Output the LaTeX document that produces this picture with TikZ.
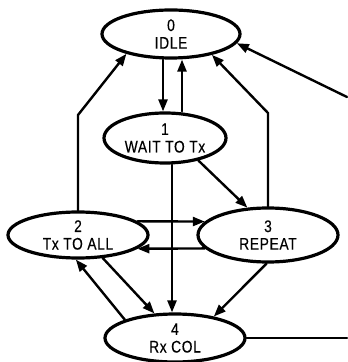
\documentclass[tikz,border=0pt]{standalone}
\usepackage{fontspec}
\setmainfont{Liberation Sans}[FakeStretch=0.82,FakeBold=0.4,LetterSpace=4]
\usetikzlibrary{arrows.meta,shapes.geometric}

\begin{document}
\begin{tikzpicture}[x=0.5pt,y=-0.5pt,>={Triangle[length=6pt,width=4.5pt]},
 line cap=round,line join=round,
 statenode/.style={ellipse,draw,line width=1.6pt,inner sep=0pt,align=center,
  font=\fontsize{8.4}{8.8}\selectfont},
 link/.style={->,line width=1.2pt}]
 \useasboundingbox (0,0) rectangle (347,362);
 % states
 \node[statenode,minimum width=69pt,minimum height=24pt] (s0) at (171,34) {0\\IDLE};
 \node[statenode,minimum width=61pt,minimum height=25pt] (s1) at (165,138) {1\\WAIT TO Tx};
 \node[statenode,minimum width=70pt,minimum height=23pt] (s2) at (78,235) {2\\Tx TO ALL};
 \node[statenode,minimum width=70pt,minimum height=27pt] (s3) at (268,235) {3\\REPEAT};
 \node[statenode,minimum width=70pt,minimum height=24pt] (s4) at (175,338) {4\\Rx COL};
 % bends and outside ends
 \coordinate (k2) at (78,115);
 \coordinate (k3) at (268,113);
 \coordinate (in0) at (347,97);
 \coordinate (out4) at (347,338);
 % transitions
 \draw[link] ([xshift=-4pt]s0.south) -- ([xshift=-4pt]s0.south |- s1.north);
 \draw[link] ([xshift=8.5pt]s1.north) -- ([xshift=8.5pt]s1.north |- s0.south);
 \draw[link] (s2.north) -- (k2) -- (s0.204);
 \draw[link] (s3.north) -- (k3) -- (s0.-27);
 \draw[link] (in0) -- (s0.-8);
 \draw[link] (s1.-34) -- (s3.127);
 \draw[link] ([xshift=3.5pt]s1.south) -- ([xshift=3.5pt]s1.south |- s4.north);
 \draw[link] (s2.13) -- (s3.168);
 \draw[link] (s3.192) -- (s2.-13);
 \draw[link] (s2.-43) -- (s4.130);
 \draw[link] (s4.160) -- (s2.-95);
 \draw[link] (s3.-93) -- (s4.29);
 \draw[line width=1.2pt] (s4.east) -- (out4);
\end{tikzpicture}
\end{document}
